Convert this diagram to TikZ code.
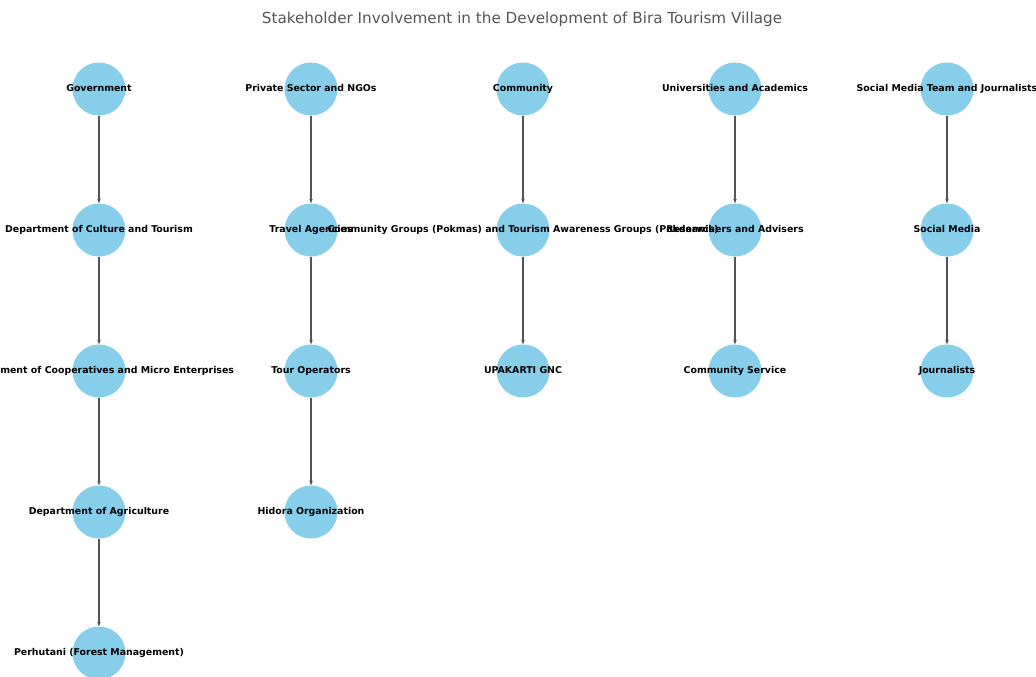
\documentclass[tikz,border=0pt]{standalone}
\usepackage{fontspec}
\setmainfont{DejaVu Sans}
\usetikzlibrary{arrows.meta}
\definecolor{himmelblau}{HTML}{87CEEB}
\definecolor{kantengrau}{HTML}{555555}
\definecolor{titelgrau}{HTML}{555555}
\begin{document}
\begin{tikzpicture}[x=1pt,y=-1pt,>={Stealth[length=4.5pt,width=3.5pt]},
  kreis/.style={circle,fill=himmelblau,minimum size=53pt,inner sep=0pt},
  beschriftung/.style={font=\bfseries\fontsize{9.4}{10}\selectfont,inner sep=0pt,
    text height=6.8pt,text depth=1.8pt},
  kante/.style={->,draw=kantengrau,fill=kantengrau,line width=1.1pt}]
\def\punkt#1#2{({99+212*(#1)},{89+141*(#2)})}
\useasboundingbox (0,0) rectangle (1036,677);
\clip (0,0) rectangle (1036,677);
\node[font=\fontsize{15.2}{17}\selectfont,text=titelgrau] (titel) at (522,19)
  {Stakeholder Involvement in the Development of Bira Tourism Village};
% Kreise
\foreach \name/\x/\y in {gov/0/0,dct/0/1,dcm/0/2,dag/0/3,per/0/4,
                         psn/1/0,tra/1/1,tou/1/2,hid/1/3,
                         com/2/0,pok/2/1,upk/2/2,
                         uni/3/0,res/3/1,cse/3/2,
                         smj/4/0,smd/4/1,jou/4/2}{
	\node[kreis] (\name) at \punkt{\x}{\y} {};
}
% Kanten
\foreach \a/\b in {gov/dct,dct/dcm,dcm/dag,dag/per,
                   psn/tra,tra/tou,tou/hid,
                   com/pok,pok/upk,
                   uni/res,res/cse,
                   smj/smd,smd/jou}{
	\draw[kante] (\a) -- (\b);
}
% Beschriftungen
\foreach \name/\text in {gov/Government,
                         dct/Department of Culture and Tourism,
                         dcm/Department of Cooperatives and Micro Enterprises,
                         dag/Department of Agriculture,
                         per/Perhutani (Forest Management),
                         psn/Private Sector and NGOs,
                         tra/Travel Agencies,
                         tou/Tour Operators,
                         hid/Hidora Organization,
                         com/Community,
                         pok/Community Groups (Pokmas) and Tourism Awareness Groups (Pokdarwis),
                         upk/UPAKARTI GNC,
                         uni/Universities and Academics,
                         res/Researchers and Advisers,
                         cse/Community Service,
                         smj/Social Media Team and Journalists,
                         smd/Social Media,
                         jou/Journalists}{
	\node[beschriftung] (\name-t) at (\name) {\text};
}
\end{tikzpicture}
\end{document}
